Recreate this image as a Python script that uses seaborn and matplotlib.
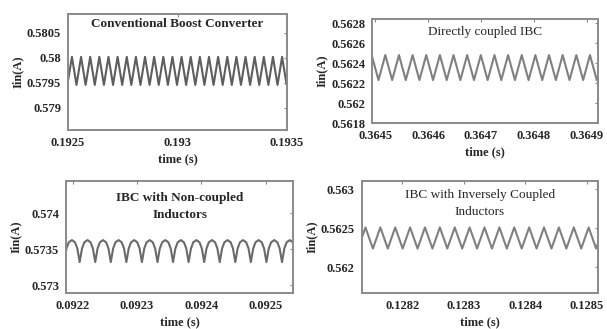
import numpy   as np
import pandas  as pd
import seaborn as sns

from matplotlib import pyplot as plt

sns.set_style("white")
plt.rcParams['font.family']      = ['Liberation Serif', 'DejaVu Serif']
plt.rcParams['font.weight']      = 'bold'
plt.rcParams['axes.labelweight'] = 'bold'

# ---- values ---------------------------------------------------------------
# panel 1 : conventional boost converter
t1_first, t1_period, t1_cycles = 0.192518, 4.17e-5, 24
i1_peak, i1_trough             = 0.58002, 0.57946
x1_ticks = [0.1925, 0.193, 0.1935]
x1_labels = ['0.1925', '0.193', '0.1935']
y1_ticks = [0.579, 0.5795, 0.58, 0.5805]
y1_labels = ['0.579', '0.5795', '0.58', '0.5805']

# panel 2 : directly coupled IBC
t2_first, t2_period, t2_cycles = 0.364519, 2.58e-5, 17
i2_peak, i2_trough             = 0.56248, 0.56223
x2_ticks = [0.3645, 0.3646, 0.3647, 0.3648, 0.3649]
x2_labels = ['0.3645', '0.3646', '0.3647', '0.3648', '0.3649']
y2_ticks = [0.5618, 0.562, 0.5622, 0.5624, 0.5626, 0.5628]
y2_labels = ['0.5618', '0.562', '0.5622', '0.5624', '0.5626', '0.5628']

# panel 3 : IBC with non-coupled inductors (cusps at the bottom)
t3_first, t3_period, t3_cycles = 0.092211, 2.42e-5, 16
i3_peak, i3_trough             = 0.573625, 0.57332
x3_ticks = [0.0922, 0.0923, 0.0924, 0.0925]
x3_labels = ['0.0922', '0.0923', '0.0924', '0.0925']
y3_ticks = [0.573, 0.5735, 0.574]
y3_labels = ['0.573', '0.5735', '0.574']

# panel 4 : IBC with inversely coupled inductors
t4_first, t4_period, t4_cycles = 0.12814, 2.42e-5, 17
i4_peak, i4_trough             = 0.56251, 0.56224
x4_ticks = [0.1282, 0.1283, 0.1284, 0.1285]
x4_labels = ['0.1282', '0.1283', '0.1284', '0.1285']
y4_ticks = [0.562, 0.5625, 0.563]
y4_labels = ['0.562', '0.5625', '0.563']

# shape of one cycle (phase, fraction of ripple)
tri_phase,  tri_level  = [0.0, 0.5], [1.0, 0.0]
cusp_phase, cusp_level = [0.0, 0.15, 0.3, 0.5, 0.7, 0.85], [0.0, 0.62, 0.9, 1.0, 0.9, 0.62]


def ripple(first, period, cycles, hi, lo, phase, level, start=-1):
    t, i = [], []
    for k in range(start, cycles + 1):
        for p, l in zip(phase, level):
            t.append(first + (k + p) * period)
            i.append(lo + l * (hi - lo))
    return pd.DataFrame({'time': t, 'Iin': i})


def panel(ax, df, xlim, ylim, xt, xl, yt, yl, title, tw, ty, color):
    sns.lineplot(data=df, x='time', y='Iin', ax=ax, color=color,
                 linewidth=1.5, estimator=None, sort=False)
    ax.set_xlim(*xlim)
    ax.set_ylim(*ylim)
    ax.set_xticks(xt, xl)
    ax.set_yticks(yt, yl)
    ax.set_xlabel('time (s)', fontsize=9, labelpad=3)
    ax.set_ylabel('Iin(A)', fontsize=9, labelpad=2)
    ax.tick_params(direction='in', length=2.5, width=0.8, color='#888888',
                   top=True, right=True, labelsize=9, pad=5)
    for s in ax.spines.values():
        s.set_color('#8a8a8a')
        s.set_linewidth(1.4)
    ax.text(0.5, ty, title, transform=ax.transAxes, ha='center', va='top',
            fontsize=9.5, fontweight=tw, linespacing=1.5)


fig = plt.figure(figsize=(6.07, 3.29), dpi=100)
ax1 = fig.add_axes([0.112, 0.605, 0.361, 0.353])
ax2 = fig.add_axes([0.613, 0.626, 0.372, 0.316])
ax3 = fig.add_axes([0.109, 0.109, 0.374, 0.340])
ax4 = fig.add_axes([0.596, 0.109, 0.389, 0.340])

d1 = ripple(t1_first, t1_period, t1_cycles, i1_peak, i1_trough, tri_phase, tri_level)
d2 = ripple(t2_first, t2_period, t2_cycles, i2_peak, i2_trough, tri_phase, tri_level)
d3 = ripple(t3_first, t3_period, t3_cycles, i3_peak, i3_trough, cusp_phase, cusp_level)
d4 = ripple(t4_first, t4_period, t4_cycles, i4_peak, i4_trough, tri_phase, tri_level)

panel(ax1, d1, (0.1925, 0.1935), (0.57856, 0.58088), x1_ticks, x1_labels,
      y1_ticks, y1_labels, 'Conventional Boost Converter', 'bold', 0.96, '#5e5e5e')
panel(ax2, d2, (0.364494, 0.364921), (0.5618, 0.56284), x2_ticks, x2_labels,
      y2_ticks, y2_labels, 'Directly coupled IBC', 'normal', 0.93, '#808080')
panel(ax3, d3, (0.09219, 0.092543), (0.57289, 0.57444), x3_ticks, x3_labels,
      y3_ticks, y3_labels, 'IBC with Non-coupled\nInductors', 'bold', 0.9, '#6a6a6a')
panel(ax4, d4, (0.128134, 0.128518), (0.56167, 0.5631), x4_ticks, x4_labels,
      y4_ticks, y4_labels, 'IBC with Inversely Coupled\nInductors', 'normal', 0.93, '#808080')

fig.savefig('out.png', dpi=100)
